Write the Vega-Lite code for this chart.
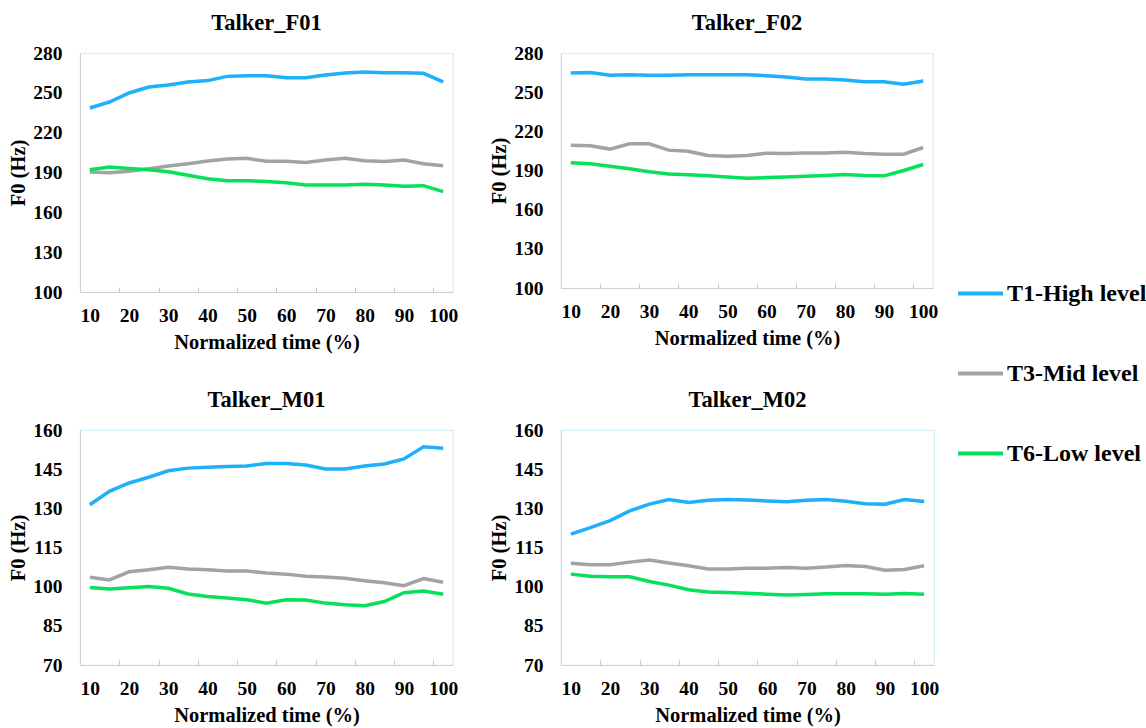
{
  "$schema": "https://vega.github.io/schema/vega-lite/v6.json",
  "background": "white",
  "padding": {"left": 8, "top": 10, "right": 5, "bottom": 0},
  "config": {
    "font": "Liberation Serif",
    "view": {"stroke": "#d3f1fb", "strokeWidth": 1.2},
    "axis": {
      "grid": false,
      "labelFont": "Liberation Serif", "labelFontSize": 19.5, "labelFontWeight": "bold", "labelColor": "#000",
      "titleFont": "Liberation Serif", "titleFontSize": 20.5, "titleFontWeight": "bold", "titleColor": "#000",
      "domainColor": "#d0d0d0", "tickColor": "#c8c8c8", "labelOverlap": false, "labelFlush": false
    },
    "title": {"font": "Liberation Serif", "fontSize": 22.5, "fontWeight": "bold", "color": "#000", "offset": 9, "frame": "group"},
    "legend": {"labelFont": "Liberation Serif", "labelFontSize": 24, "labelFontWeight": "bold", "labelColor": "#000"}
  },
  "datasets": {
    "d": [
      {"talker":"F01","tone":"T1-High level","t":10,"f0":238.6},{"talker":"F01","tone":"T1-High level","t":15,"f0":243.1},{"talker":"F01","tone":"T1-High level","t":20,"f0":249.9},{"talker":"F01","tone":"T1-High level","t":25,"f0":254.4},{"talker":"F01","tone":"T1-High level","t":30,"f0":255.9},{"talker":"F01","tone":"T1-High level","t":35,"f0":258.2},{"talker":"F01","tone":"T1-High level","t":40,"f0":259.2},{"talker":"F01","tone":"T1-High level","t":45,"f0":262.4},{"talker":"F01","tone":"T1-High level","t":50,"f0":262.9},{"talker":"F01","tone":"T1-High level","t":55,"f0":262.9},{"talker":"F01","tone":"T1-High level","t":60,"f0":261.4},{"talker":"F01","tone":"T1-High level","t":65,"f0":261.4},{"talker":"F01","tone":"T1-High level","t":70,"f0":263.4},{"talker":"F01","tone":"T1-High level","t":75,"f0":264.9},{"talker":"F01","tone":"T1-High level","t":80,"f0":265.7},{"talker":"F01","tone":"T1-High level","t":85,"f0":265.2},{"talker":"F01","tone":"T1-High level","t":90,"f0":265.2},{"talker":"F01","tone":"T1-High level","t":95,"f0":264.7},{"talker":"F01","tone":"T1-High level","t":100,"f0":258.2},
      {"talker":"F01","tone":"T3-Mid level","t":10,"f0":190.4},{"talker":"F01","tone":"T3-Mid level","t":15,"f0":189.9},{"talker":"F01","tone":"T3-Mid level","t":20,"f0":190.9},{"talker":"F01","tone":"T3-Mid level","t":25,"f0":192.9},{"talker":"F01","tone":"T3-Mid level","t":30,"f0":194.9},{"talker":"F01","tone":"T3-Mid level","t":35,"f0":196.6},{"talker":"F01","tone":"T3-Mid level","t":40,"f0":198.7},{"talker":"F01","tone":"T3-Mid level","t":45,"f0":200.2},{"talker":"F01","tone":"T3-Mid level","t":50,"f0":200.7},{"talker":"F01","tone":"T3-Mid level","t":55,"f0":198.4},{"talker":"F01","tone":"T3-Mid level","t":60,"f0":198.4},{"talker":"F01","tone":"T3-Mid level","t":65,"f0":197.6},{"talker":"F01","tone":"T3-Mid level","t":70,"f0":199.4},{"talker":"F01","tone":"T3-Mid level","t":75,"f0":200.7},{"talker":"F01","tone":"T3-Mid level","t":80,"f0":198.9},{"talker":"F01","tone":"T3-Mid level","t":85,"f0":198.2},{"talker":"F01","tone":"T3-Mid level","t":90,"f0":199.4},{"talker":"F01","tone":"T3-Mid level","t":95,"f0":196.6},{"talker":"F01","tone":"T3-Mid level","t":100,"f0":195.1},
      {"talker":"F01","tone":"T6-Low level","t":10,"f0":192.1},{"talker":"F01","tone":"T6-Low level","t":15,"f0":194.1},{"talker":"F01","tone":"T6-Low level","t":20,"f0":193.1},{"talker":"F01","tone":"T6-Low level","t":25,"f0":192.1},{"talker":"F01","tone":"T6-Low level","t":30,"f0":190.6},{"talker":"F01","tone":"T6-Low level","t":35,"f0":187.9},{"talker":"F01","tone":"T6-Low level","t":40,"f0":185.3},{"talker":"F01","tone":"T6-Low level","t":45,"f0":183.8},{"talker":"F01","tone":"T6-Low level","t":50,"f0":183.8},{"talker":"F01","tone":"T6-Low level","t":55,"f0":183.3},{"talker":"F01","tone":"T6-Low level","t":60,"f0":182.3},{"talker":"F01","tone":"T6-Low level","t":65,"f0":180.6},{"talker":"F01","tone":"T6-Low level","t":70,"f0":180.6},{"talker":"F01","tone":"T6-Low level","t":75,"f0":180.6},{"talker":"F01","tone":"T6-Low level","t":80,"f0":181.1},{"talker":"F01","tone":"T6-Low level","t":85,"f0":180.6},{"talker":"F01","tone":"T6-Low level","t":90,"f0":179.6},{"talker":"F01","tone":"T6-Low level","t":95,"f0":180.1},{"talker":"F01","tone":"T6-Low level","t":100,"f0":175.6},
      {"talker":"F02","tone":"T1-High level","t":10,"f0":264.7},{"talker":"F02","tone":"T1-High level","t":15,"f0":265},{"talker":"F02","tone":"T1-High level","t":20,"f0":263},{"talker":"F02","tone":"T1-High level","t":25,"f0":263.4},{"talker":"F02","tone":"T1-High level","t":30,"f0":263},{"talker":"F02","tone":"T1-High level","t":35,"f0":263},{"talker":"F02","tone":"T1-High level","t":40,"f0":263.4},{"talker":"F02","tone":"T1-High level","t":45,"f0":263.4},{"talker":"F02","tone":"T1-High level","t":50,"f0":263.4},{"talker":"F02","tone":"T1-High level","t":55,"f0":263.4},{"talker":"F02","tone":"T1-High level","t":60,"f0":262.6},{"talker":"F02","tone":"T1-High level","t":65,"f0":261.6},{"talker":"F02","tone":"T1-High level","t":70,"f0":260},{"talker":"F02","tone":"T1-High level","t":75,"f0":260},{"talker":"F02","tone":"T1-High level","t":80,"f0":259.3},{"talker":"F02","tone":"T1-High level","t":85,"f0":258},{"talker":"F02","tone":"T1-High level","t":90,"f0":258},{"talker":"F02","tone":"T1-High level","t":95,"f0":256},{"talker":"F02","tone":"T1-High level","t":100,"f0":258.5},
      {"talker":"F02","tone":"T3-Mid level","t":10,"f0":209.4},{"talker":"F02","tone":"T3-Mid level","t":15,"f0":209},{"talker":"F02","tone":"T3-Mid level","t":20,"f0":206.4},{"talker":"F02","tone":"T3-Mid level","t":25,"f0":210.5},{"talker":"F02","tone":"T3-Mid level","t":30,"f0":210.5},{"talker":"F02","tone":"T3-Mid level","t":35,"f0":205.6},{"talker":"F02","tone":"T3-Mid level","t":40,"f0":204.8},{"talker":"F02","tone":"T3-Mid level","t":45,"f0":201.5},{"talker":"F02","tone":"T3-Mid level","t":50,"f0":201},{"talker":"F02","tone":"T3-Mid level","t":55,"f0":201.5},{"talker":"F02","tone":"T3-Mid level","t":60,"f0":203.3},{"talker":"F02","tone":"T3-Mid level","t":65,"f0":203},{"talker":"F02","tone":"T3-Mid level","t":70,"f0":203.5},{"talker":"F02","tone":"T3-Mid level","t":75,"f0":203.5},{"talker":"F02","tone":"T3-Mid level","t":80,"f0":204},{"talker":"F02","tone":"T3-Mid level","t":85,"f0":203},{"talker":"F02","tone":"T3-Mid level","t":90,"f0":202.5},{"talker":"F02","tone":"T3-Mid level","t":95,"f0":202.5},{"talker":"F02","tone":"T3-Mid level","t":100,"f0":207.6},
      {"talker":"F02","tone":"T6-Low level","t":10,"f0":195.9},{"talker":"F02","tone":"T6-Low level","t":15,"f0":195.1},{"talker":"F02","tone":"T6-Low level","t":20,"f0":193.3},{"talker":"F02","tone":"T6-Low level","t":25,"f0":191.3},{"talker":"F02","tone":"T6-Low level","t":30,"f0":189},{"talker":"F02","tone":"T6-Low level","t":35,"f0":187.4},{"talker":"F02","tone":"T6-Low level","t":40,"f0":186.7},{"talker":"F02","tone":"T6-Low level","t":45,"f0":185.9},{"talker":"F02","tone":"T6-Low level","t":50,"f0":185.1},{"talker":"F02","tone":"T6-Low level","t":55,"f0":184.1},{"talker":"F02","tone":"T6-Low level","t":60,"f0":184.6},{"talker":"F02","tone":"T6-Low level","t":65,"f0":185.1},{"talker":"F02","tone":"T6-Low level","t":70,"f0":185.6},{"talker":"F02","tone":"T6-Low level","t":75,"f0":186.2},{"talker":"F02","tone":"T6-Low level","t":80,"f0":186.9},{"talker":"F02","tone":"T6-Low level","t":85,"f0":186.2},{"talker":"F02","tone":"T6-Low level","t":90,"f0":185.9},{"talker":"F02","tone":"T6-Low level","t":95,"f0":190},{"talker":"F02","tone":"T6-Low level","t":100,"f0":194.6},
      {"talker":"M01","tone":"T1-High level","t":10,"f0":131.4},{"talker":"M01","tone":"T1-High level","t":15,"f0":136.5},{"talker":"M01","tone":"T1-High level","t":20,"f0":139.7},{"talker":"M01","tone":"T1-High level","t":25,"f0":141.9},{"talker":"M01","tone":"T1-High level","t":30,"f0":144.4},{"talker":"M01","tone":"T1-High level","t":35,"f0":145.4},{"talker":"M01","tone":"T1-High level","t":40,"f0":145.7},{"talker":"M01","tone":"T1-High level","t":45,"f0":146},{"talker":"M01","tone":"T1-High level","t":50,"f0":146.2},{"talker":"M01","tone":"T1-High level","t":55,"f0":147.2},{"talker":"M01","tone":"T1-High level","t":60,"f0":147.2},{"talker":"M01","tone":"T1-High level","t":65,"f0":146.6},{"talker":"M01","tone":"T1-High level","t":70,"f0":145.1},{"talker":"M01","tone":"T1-High level","t":75,"f0":145.1},{"talker":"M01","tone":"T1-High level","t":80,"f0":146.2},{"talker":"M01","tone":"T1-High level","t":85,"f0":147},{"talker":"M01","tone":"T1-High level","t":90,"f0":148.9},{"talker":"M01","tone":"T1-High level","t":95,"f0":153.6},{"talker":"M01","tone":"T1-High level","t":100,"f0":153},
      {"talker":"M01","tone":"T3-Mid level","t":10,"f0":103.6},{"talker":"M01","tone":"T3-Mid level","t":15,"f0":102.6},{"talker":"M01","tone":"T3-Mid level","t":20,"f0":105.7},{"talker":"M01","tone":"T3-Mid level","t":25,"f0":106.5},{"talker":"M01","tone":"T3-Mid level","t":30,"f0":107.4},{"talker":"M01","tone":"T3-Mid level","t":35,"f0":106.8},{"talker":"M01","tone":"T3-Mid level","t":40,"f0":106.5},{"talker":"M01","tone":"T3-Mid level","t":45,"f0":106},{"talker":"M01","tone":"T3-Mid level","t":50,"f0":106},{"talker":"M01","tone":"T3-Mid level","t":55,"f0":105.2},{"talker":"M01","tone":"T3-Mid level","t":60,"f0":104.8},{"talker":"M01","tone":"T3-Mid level","t":65,"f0":104},{"talker":"M01","tone":"T3-Mid level","t":70,"f0":103.7},{"talker":"M01","tone":"T3-Mid level","t":75,"f0":103.2},{"talker":"M01","tone":"T3-Mid level","t":80,"f0":102.3},{"talker":"M01","tone":"T3-Mid level","t":85,"f0":101.5},{"talker":"M01","tone":"T3-Mid level","t":90,"f0":100.4},{"talker":"M01","tone":"T3-Mid level","t":95,"f0":103.1},{"talker":"M01","tone":"T3-Mid level","t":100,"f0":101.7},
      {"talker":"M01","tone":"T6-Low level","t":10,"f0":99.7},{"talker":"M01","tone":"T6-Low level","t":15,"f0":99.1},{"talker":"M01","tone":"T6-Low level","t":20,"f0":99.6},{"talker":"M01","tone":"T6-Low level","t":25,"f0":100.1},{"talker":"M01","tone":"T6-Low level","t":30,"f0":99.4},{"talker":"M01","tone":"T6-Low level","t":35,"f0":97.2},{"talker":"M01","tone":"T6-Low level","t":40,"f0":96.2},{"talker":"M01","tone":"T6-Low level","t":45,"f0":95.7},{"talker":"M01","tone":"T6-Low level","t":50,"f0":95},{"talker":"M01","tone":"T6-Low level","t":55,"f0":93.7},{"talker":"M01","tone":"T6-Low level","t":60,"f0":95},{"talker":"M01","tone":"T6-Low level","t":65,"f0":94.9},{"talker":"M01","tone":"T6-Low level","t":70,"f0":93.7},{"talker":"M01","tone":"T6-Low level","t":75,"f0":93.1},{"talker":"M01","tone":"T6-Low level","t":80,"f0":92.7},{"talker":"M01","tone":"T6-Low level","t":85,"f0":94.3},{"talker":"M01","tone":"T6-Low level","t":90,"f0":97.7},{"talker":"M01","tone":"T6-Low level","t":95,"f0":98.3},{"talker":"M01","tone":"T6-Low level","t":100,"f0":97.1},
      {"talker":"M02","tone":"T1-High level","t":10,"f0":120.1},{"talker":"M02","tone":"T1-High level","t":15,"f0":122.6},{"talker":"M02","tone":"T1-High level","t":20,"f0":125.3},{"talker":"M02","tone":"T1-High level","t":25,"f0":129},{"talker":"M02","tone":"T1-High level","t":30,"f0":131.6},{"talker":"M02","tone":"T1-High level","t":35,"f0":133.4},{"talker":"M02","tone":"T1-High level","t":40,"f0":132.2},{"talker":"M02","tone":"T1-High level","t":45,"f0":133.1},{"talker":"M02","tone":"T1-High level","t":50,"f0":133.4},{"talker":"M02","tone":"T1-High level","t":55,"f0":133.2},{"talker":"M02","tone":"T1-High level","t":60,"f0":132.8},{"talker":"M02","tone":"T1-High level","t":65,"f0":132.5},{"talker":"M02","tone":"T1-High level","t":70,"f0":133.1},{"talker":"M02","tone":"T1-High level","t":75,"f0":133.4},{"talker":"M02","tone":"T1-High level","t":80,"f0":132.7},{"talker":"M02","tone":"T1-High level","t":85,"f0":131.8},{"talker":"M02","tone":"T1-High level","t":90,"f0":131.6},{"talker":"M02","tone":"T1-High level","t":95,"f0":133.4},{"talker":"M02","tone":"T1-High level","t":100,"f0":132.6},
      {"talker":"M02","tone":"T3-Mid level","t":10,"f0":109},{"talker":"M02","tone":"T3-Mid level","t":15,"f0":108.4},{"talker":"M02","tone":"T3-Mid level","t":20,"f0":108.4},{"talker":"M02","tone":"T3-Mid level","t":25,"f0":109.4},{"talker":"M02","tone":"T3-Mid level","t":30,"f0":110.2},{"talker":"M02","tone":"T3-Mid level","t":35,"f0":109.1},{"talker":"M02","tone":"T3-Mid level","t":40,"f0":108},{"talker":"M02","tone":"T3-Mid level","t":45,"f0":106.8},{"talker":"M02","tone":"T3-Mid level","t":50,"f0":106.8},{"talker":"M02","tone":"T3-Mid level","t":55,"f0":107.1},{"talker":"M02","tone":"T3-Mid level","t":60,"f0":107.1},{"talker":"M02","tone":"T3-Mid level","t":65,"f0":107.3},{"talker":"M02","tone":"T3-Mid level","t":70,"f0":107.1},{"talker":"M02","tone":"T3-Mid level","t":75,"f0":107.5},{"talker":"M02","tone":"T3-Mid level","t":80,"f0":108.1},{"talker":"M02","tone":"T3-Mid level","t":85,"f0":107.7},{"talker":"M02","tone":"T3-Mid level","t":90,"f0":106.3},{"talker":"M02","tone":"T3-Mid level","t":95,"f0":106.6},{"talker":"M02","tone":"T3-Mid level","t":100,"f0":108},
      {"talker":"M02","tone":"T6-Low level","t":10,"f0":104.8},{"talker":"M02","tone":"T6-Low level","t":15,"f0":104},{"talker":"M02","tone":"T6-Low level","t":20,"f0":103.8},{"talker":"M02","tone":"T6-Low level","t":25,"f0":103.8},{"talker":"M02","tone":"T6-Low level","t":30,"f0":102},{"talker":"M02","tone":"T6-Low level","t":35,"f0":100.6},{"talker":"M02","tone":"T6-Low level","t":40,"f0":98.8},{"talker":"M02","tone":"T6-Low level","t":45,"f0":98},{"talker":"M02","tone":"T6-Low level","t":50,"f0":97.8},{"talker":"M02","tone":"T6-Low level","t":55,"f0":97.5},{"talker":"M02","tone":"T6-Low level","t":60,"f0":97.1},{"talker":"M02","tone":"T6-Low level","t":65,"f0":96.8},{"talker":"M02","tone":"T6-Low level","t":70,"f0":97},{"talker":"M02","tone":"T6-Low level","t":75,"f0":97.3},{"talker":"M02","tone":"T6-Low level","t":80,"f0":97.3},{"talker":"M02","tone":"T6-Low level","t":85,"f0":97.3},{"talker":"M02","tone":"T6-Low level","t":90,"f0":97.1},{"talker":"M02","tone":"T6-Low level","t":95,"f0":97.4},{"talker":"M02","tone":"T6-Low level","t":100,"f0":97.1}
    ]
  },
  "columns": 2,
  "spacing": {"column": 30, "row": 33},
  "concat": [
    {
      "title": "Talker_F01", "width": 373, "height": 239,
      "data": {"name": "d"},
      "transform": [{"filter": "datum.talker === 'F01'"}],
      "resolve": {"axis": {"x": "independent", "y": "independent"}},
      "layer": [
        {"mark": {"type": "line", "strokeWidth": 3.5},
         "encoding": {
           "x": {"field": "t", "type": "quantitative", "scale": {"domain": [7.5, 102.5], "nice": false, "zero": false}, "axis": {"orient": "bottom", "values": [10,20,30,40,50,60,70,80,90,100], "ticks": false, "title": "Normalized time (%)", "labelPadding": 14, "titlePadding": 8, "labelOverlap": false}},
           "y": {"field": "f0", "type": "quantitative", "scale": {"domain": [100, 280], "nice": false, "zero": false}, "axis": {"values": [100,130,160,190,220,250,280], "ticks": false, "title": "F0 (Hz)", "labelPadding": 18, "titlePadding": 4, "labelOverlap": false}},
           "color": {"field": "tone", "type": "nominal", "scale": {"domain": ["T1-High level","T3-Mid level","T6-Low level"], "range": ["#1eb0fb","#a3a3a3","#06e05a"]},
             "legend": {"title": null, "orient": "none", "legendX": 876, "legendY": 216, "symbolType": "stroke", "symbolSize": 2025, "symbolStrokeWidth": 4, "rowPadding": 43, "labelOffset": 2}}
         }},
        {"mark": {"type": "line", "opacity": 0},
         "encoding": {
           "x": {"field": "t", "type": "quantitative", "axis": {"values": [17.5,27.5,37.5,47.5,57.5,67.5,77.5,87.5,97.5], "labels": false, "domain": false, "title": null, "ticks": true, "tickSize": 5, "offset": -5, "orient": "bottom"}},
           "y": {"field": "f0", "type": "quantitative", "axis": null},
           "detail": {"field": "tone"}
         }}
      ]
    },
    {
      "title": "Talker_F02", "width": 372, "height": 235,
      "data": {"name": "d"},
      "transform": [{"filter": "datum.talker === 'F02'"}],
      "resolve": {"axis": {"x": "independent", "y": "independent"}},
      "layer": [
        {"mark": {"type": "line", "strokeWidth": 3.5},
         "encoding": {
           "x": {"field": "t", "type": "quantitative", "scale": {"domain": [7.5, 102.5], "nice": false, "zero": false}, "axis": {"orient": "bottom", "values": [10,20,30,40,50,60,70,80,90,100], "ticks": false, "title": "Normalized time (%)", "labelPadding": 14, "titlePadding": 8, "labelOverlap": false}},
           "y": {"field": "f0", "type": "quantitative", "scale": {"domain": [100, 280], "nice": false, "zero": false}, "axis": {"values": [100,130,160,190,220,250,280], "ticks": false, "title": "F0 (Hz)", "labelPadding": 18, "titlePadding": 4, "labelOverlap": false}},
           "color": {"field": "tone", "type": "nominal"}
         }},
        {"mark": {"type": "line", "opacity": 0},
         "encoding": {
           "x": {"field": "t", "type": "quantitative", "axis": {"values": [17.5,27.5,37.5,47.5,57.5,67.5,77.5,87.5,97.5], "labels": false, "domain": false, "title": null, "ticks": true, "tickSize": 5, "offset": -5, "orient": "bottom"}},
           "y": {"field": "f0", "type": "quantitative", "axis": null},
           "detail": {"field": "tone"}
         }}
      ]
    },
    {
      "title": "Talker_M01", "width": 373, "height": 235,
      "data": {"name": "d"},
      "transform": [{"filter": "datum.talker === 'M01'"}],
      "resolve": {"axis": {"x": "independent", "y": "independent"}},
      "layer": [
        {"mark": {"type": "line", "strokeWidth": 3.5},
         "encoding": {
           "x": {"field": "t", "type": "quantitative", "scale": {"domain": [7.5, 102.5], "nice": false, "zero": false}, "axis": {"orient": "bottom", "values": [10,20,30,40,50,60,70,80,90,100], "ticks": false, "title": "Normalized time (%)", "labelPadding": 14, "titlePadding": 8, "labelOverlap": false}},
           "y": {"field": "f0", "type": "quantitative", "scale": {"domain": [70, 160], "nice": false, "zero": false}, "axis": {"values": [70,85,100,115,130,145,160], "ticks": false, "title": "F0 (Hz)", "labelPadding": 18, "titlePadding": 4, "labelOverlap": false}},
           "color": {"field": "tone", "type": "nominal"}
         }},
        {"mark": {"type": "line", "opacity": 0},
         "encoding": {
           "x": {"field": "t", "type": "quantitative", "axis": {"values": [17.5,27.5,37.5,47.5,57.5,67.5,77.5,87.5,97.5], "labels": false, "domain": false, "title": null, "ticks": true, "tickSize": 5, "offset": -5, "orient": "bottom"}},
           "y": {"field": "f0", "type": "quantitative", "axis": null},
           "detail": {"field": "tone"}
         }}
      ]
    },
    {
      "title": "Talker_M02", "width": 373, "height": 235,
      "data": {"name": "d"},
      "transform": [{"filter": "datum.talker === 'M02'"}],
      "resolve": {"axis": {"x": "independent", "y": "independent"}},
      "layer": [
        {"mark": {"type": "line", "strokeWidth": 3.5},
         "encoding": {
           "x": {"field": "t", "type": "quantitative", "scale": {"domain": [7.5, 102.5], "nice": false, "zero": false}, "axis": {"orient": "bottom", "values": [10,20,30,40,50,60,70,80,90,100], "ticks": false, "title": "Normalized time (%)", "labelPadding": 14, "titlePadding": 8, "labelOverlap": false}},
           "y": {"field": "f0", "type": "quantitative", "scale": {"domain": [70, 160], "nice": false, "zero": false}, "axis": {"values": [70,85,100,115,130,145,160], "ticks": false, "title": "F0 (Hz)", "labelPadding": 18, "titlePadding": 4, "labelOverlap": false}},
           "color": {"field": "tone", "type": "nominal"}
         }},
        {"mark": {"type": "line", "opacity": 0},
         "encoding": {
           "x": {"field": "t", "type": "quantitative", "axis": {"values": [17.5,27.5,37.5,47.5,57.5,67.5,77.5,87.5,97.5], "labels": false, "domain": false, "title": null, "ticks": true, "tickSize": 5, "offset": -5, "orient": "bottom"}},
           "y": {"field": "f0", "type": "quantitative", "axis": null},
           "detail": {"field": "tone"}
         }}
      ]
    }
  ]
}
